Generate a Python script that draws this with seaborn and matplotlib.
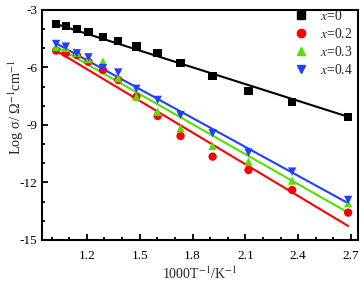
import numpy as np
import pandas as pd
import matplotlib
matplotlib.use("Agg")
import matplotlib.pyplot as plt
import seaborn as sns
from matplotlib.ticker import MultipleLocator
from matplotlib.lines import Line2D

# ---- data ----
inv_T = [1.025, 1.080, 1.143, 1.209, 1.291, 1.378, 1.481, 1.602, 1.732, 1.914, 2.118, 2.366, 2.684]
log_x0  = [-3.73, -3.83, -3.98, -4.15, -4.42, -4.63, -4.91, -5.26, -5.78, -6.44, -7.21, -7.81, -8.57]
log_x02 = [-5.12, -5.26, -5.35, -5.70, -6.13, -6.65, -7.54, -8.53, -9.57, -10.65, -11.35, -12.39, -13.57]
log_x03 = [-4.93, -4.98, -5.24, -5.56, -5.69, -6.55, -7.52, -8.31, -9.17, -10.09, -10.91, -11.90, -13.08]
log_x04 = [-4.77, -4.91, -5.26, -5.47, -6.03, -6.26, -7.11, -7.69, -8.48, -9.43, -10.44, -11.43, -12.91]
series_labels = ["$x$=0", "$x$=0.2", "$x$=0.3", "$x$=0.4"]
# Arrhenius fit lines (slope, intercept)
fit_slopes = [-2.917, -5.515, -5.22, -5.027]
fit_intercepts = [-0.74, 0.533, 0.44, 0.413]

colors = ["#000000", "#FF0000", "#55E000", "#1E40FF"]
markers = ["s", "o", "^", "v"]

rows = []
for lab, vals in zip(series_labels, [log_x0, log_x02, log_x03, log_x04]):
    for xv, yv in zip(inv_T, vals):
        rows.append({"invT": xv, "logs": yv, "series": lab})
df = pd.DataFrame(rows)

sns.set_style("ticks")
plt.rcParams["font.family"] = ["Liberation Serif", "DejaVu Serif"]
plt.rcParams["mathtext.fontset"] = "stix"

fig = plt.figure(figsize=(3.64, 2.82), dpi=100)
ax = fig.add_axes([42/364, 1 - 240/282, (358-42)/364, (240-10)/282])

# fit lines
xl = np.array([min(inv_T), max(inv_T)])
fit_df = pd.DataFrame({
    "invT": np.concatenate([xl] * 4),
    "logs": np.concatenate([s * xl + b for s, b in zip(fit_slopes, fit_intercepts)]),
    "series": np.repeat(series_labels, 2),
})
sns.lineplot(data=fit_df, x="invT", y="logs", hue="series", palette=colors,
             hue_order=series_labels, ax=ax, legend=False, linewidth=1.5)

sns.scatterplot(data=df, x="invT", y="logs", hue="series", style="series",
                palette=colors, markers=markers, hue_order=series_labels,
                style_order=series_labels, s=36, edgecolor="none", ax=ax,
                legend=False, zorder=3)

ax.set_xlim(0.945, 2.74)
ax.set_ylim(-15, -3)
ax.xaxis.set_major_locator(MultipleLocator(0.3))
ax.xaxis.set_minor_locator(MultipleLocator(0.1))
ax.yaxis.set_major_locator(MultipleLocator(3))
ax.yaxis.set_minor_locator(MultipleLocator(1))
ax.set_xticks([1.2, 1.5, 1.8, 2.1, 2.4, 2.7])
ax.set_xticklabels(["1.2", "1.5", "1.8", "2.1", "2.4", "2.7"])
ax.set_yticks([-3, -6, -9, -12, -15])
ax.set_yticklabels(["-3", "-6", "-9", "-12", "-15"])
ax.tick_params(which="both", direction="in", labelsize=9.5, width=1.3, colors="black")
ax.tick_params(which="major", length=4)
ax.tick_params(which="minor", length=2.5)
ax.tick_params(axis="x", pad=7)
for sp in ax.spines.values():
    sp.set_visible(True)
    sp.set_linewidth(1.5)
    sp.set_color("black")

ax.set_xlabel("1000T$^{-1}$/K$^{-1}$", fontsize=10, labelpad=3)
ax.set_ylabel("Log σ/ Ω$^{-1}$cm$^{-1}$", fontsize=10.3)
ax.yaxis.set_label_coords(-0.05, 0.575)

handles = [Line2D([], [], linestyle="none", marker=m, color=c, markersize=6)
           for m, c in zip(markers, colors)]
ax.legend(handles, series_labels, loc="upper right", frameon=False, fontsize=9.8,
          handletextpad=0.4, labelspacing=0.3, borderaxespad=0.0,
          bbox_to_anchor=(1.0, 1.03))

fig.savefig("out.png", dpi=100)
